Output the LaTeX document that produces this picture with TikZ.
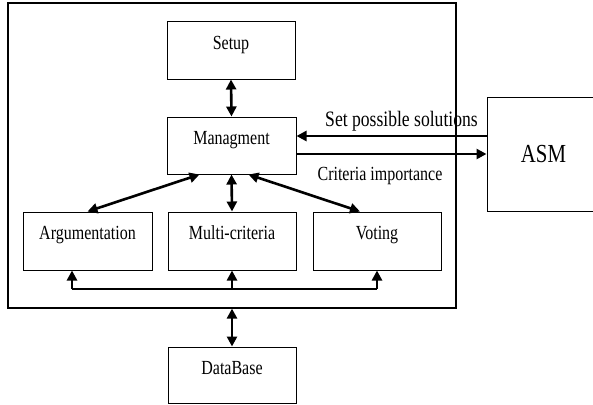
\documentclass[tikz,border=0pt]{standalone}
\usepackage{fontspec}
\setmainfont[FakeStretch=0.8]{Liberation Serif}
\usetikzlibrary{arrows.meta}
\begin{document}
\begin{tikzpicture}[x=1pt,y=-1pt,
  box/.style={draw, line width=1pt, minimum width=128pt, inner xsep=0pt, inner ysep=0pt,
    text height=27pt, text depth=30pt, font=\fontsize{20}{24}\selectfont},
  tip/.tip={Triangle[length=10pt,width=10pt]},
  link/.style={line width=2.6pt, tip-tip},
  feed/.style={line width=2.6pt, -tip},
  bus/.style={line width=1.5pt},
  lbl/.style={anchor=base, inner sep=0pt}
]
\useasboundingbox (0,0) rectangle (593,404);
\fill[white] (0,0) rectangle (593,404);

% outer module frame
\node[draw, line width=1.2pt, minimum width=448pt, minimum height=305pt, inner sep=0pt]
  (frame) at (232,155.5) {};

% component boxes
\node[box] (setup)  at (231,50.5)  {Setup};
\node[box, minimum width=129pt] (mgmt) at (231.5,145.5) {Managment};
\node[box, minimum width=129pt, text depth=31pt] (arg) at (87.5,241) {Argumentation};
\node[box, text depth=31pt] (multi)  at (232,241) {Multi-criteria};
\node[box, text depth=31pt] (voting) at (377,241) {Voting};
\node[box, text depth=29pt] (db)     at (232,375) {DataBase};
\node[draw, line width=1pt, minimum width=113pt, minimum height=114pt, inner sep=0pt,
  font=\fontsize{26}{30}\selectfont] (asm) at (543.5,154) {ASM};

% links inside the frame
\draw[link] (setup.south) -- (mgmt.north);
\draw[link] ([xshift=-32pt]mgmt.south) -- (arg.north);
\draw[link] (mgmt.south) -- (multi.north);
\draw[link] ([xshift=17pt]mgmt.south) -- ([xshift=-17pt]voting.north);

% shared bus feeding the three methods
\coordinate (busL) at (72,289);
\coordinate (busR) at (377,289);
\draw[bus] (busL) -- (busR);
\draw[feed] (busL) -- (busL |- arg.south);
\draw[feed] (multi.south |- busL) -- (multi.south);
\draw[feed] (busR) -- (voting.south);

% database link
\draw[link] (frame.south -| db.north) -- (db.north);

% exchange with ASM
\coordinate (asmin) at ([yshift=18pt]asm.west);
\draw[feed] (asmin) -- (mgmt.east |- asmin);
\draw[feed] (mgmt.east |- asm.west) -- (asm.west);
\node[lbl, font=\fontsize{22}{26}\selectfont] (setlbl) at (401.5,126) {Set possible solutions};
\node[lbl, font=\fontsize{20}{24}\selectfont] (critlbl) at (380,180) {Criteria importance};
\end{tikzpicture}
\end{document}
